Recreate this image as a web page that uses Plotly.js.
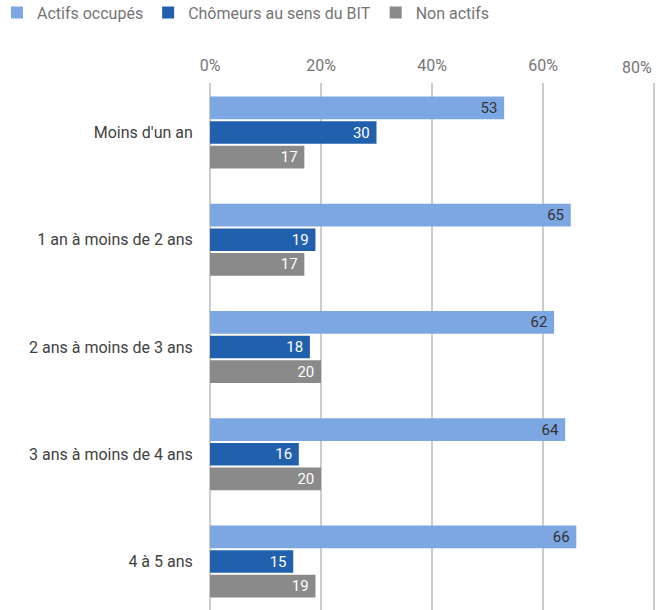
<!DOCTYPE html>
<html>
<head>
<meta charset="utf-8">
<script src="https://cdn.plot.ly/plotly-3.0.1.min.js"></script>
<style>
  html, body { margin: 0; padding: 0; background: #fff; overflow: hidden; }
  #chart { width: 672px; height: 610px; }
</style>
</head>
<body>
<div id="chart"></div>
<script>
// Durée depuis la sortie de formation : répartition par situation (%)
const categories = [
  "Moins d'un an",
  "1 an à moins de 2 ans",
  "2 ans à moins de 3 ans",
  "3 ans à moins de 4 ans",
  "4 à 5 ans"
];
const actifsOccupes = [53, 65, 62, 64, 66];
const chomeursBIT = [30, 19, 18, 16, 15];
const nonActifs = [17, 17, 20, 20, 19];

const seriesNames = ["Actifs occupés", "Chômeurs au sens du BIT", "Non actifs"];
const xTickValues = [0, 20, 40, 60, 80];
const xTickLabels = ["0%", "20%", "40%", "60%", "80%"];

const FONT = "Roboto, 'Noto Sans', Arial, sans-serif";
const NBSP = "\u00a0";
const TICK_GREY = "#757575";
const GRID_GREY = "#9a9a9a";

// the last tick label is right-aligned on its grid line, so it is drawn as an
// annotation anchored at that value; the other labels stay centred
const lastTick = xTickValues.length - 1;
const tickText = xTickLabels.map((t, i) => (i === lastTick ? "" : t));

function barTrace(name, values, color, textColor) {
  return {
    type: "bar",
    orientation: "h",
    name: name,
    y: categories,
    x: values,
    // a trailing space keeps the value a little away from the bar end
    text: values.map(v => String(v) + NBSP),
    textposition: "inside",
    insidetextanchor: "end",
    textangle: 0,
    constraintext: "none",
    textfont: { family: FONT, size: 15, color: textColor },
    marker: { color: color, line: { width: 0 } },
    hoverinfo: "skip",
    cliponaxis: true
  };
}

const data = [
  barTrace(seriesNames[0], actifsOccupes, "#7da7e3", "#333333"),
  barTrace(seriesNames[1], chomeursBIT, "#2160ad", "#ffffff"),
  barTrace(seriesNames[2], nonActifs, "#8a8a8a", "#ffffff")
];

// vertical grid lines at every tick value, full plot height; the bars are
// drawn over them, except past the longest bar where nothing covers the line
const maxValue = Math.max(...actifsOccupes, ...chomeursBIT, ...nonActifs);
const gridLines = xTickValues.map(v => ({
  type: "line",
  xref: "x", x0: v, x1: v,
  yref: "paper", y0: 0, y1: 1,
  line: { color: GRID_GREY, width: 1 },
  layer: v > maxValue ? "above" : "below"
}));

// a few pixels of room at both ends of the value axis (5.55 px per point)
const xPad = 0.54054;

const layout = {
  width: 672,
  height: 610,
  margin: { l: 207, r: 15, t: 83, b: 0, pad: 0, autoexpand: false },
  paper_bgcolor: "#ffffff",
  plot_bgcolor: "#ffffff",
  font: { family: FONT, size: 16, color: "#444444" },
  barmode: "group",
  bargap: 0.31,
  bargroupgap: 0.08,
  showlegend: true,
  legend: {
    orientation: "h",
    x: -0.4667, xref: "paper", xanchor: "left",
    y: 1.166, yref: "paper", yanchor: "top",
    font: { family: FONT, size: 16, color: TICK_GREY },
    traceorder: "normal",
    itemclick: false,
    itemdoubleclick: false
  },
  shapes: gridLines,
  annotations: [{
    x: xTickValues[lastTick], xref: "x",
    y: 1, yref: "paper",
    text: xTickLabels[lastTick],
    showarrow: false,
    xanchor: "right", yanchor: "middle",
    yshift: 16,
    font: { family: FONT, size: 16, color: TICK_GREY }
  }],
  xaxis: {
    side: "top",
    range: [-xPad, 80 + xPad],
    tickvals: xTickValues,
    ticktext: tickText,
    tickfont: { family: FONT, size: 16, color: TICK_GREY },
    ticks: "outside",
    ticklen: 5,
    tickcolor: "rgba(0,0,0,0)",
    showgrid: false,
    zeroline: false,
    showline: false,
    fixedrange: true
  },
  yaxis: {
    type: "category",
    range: [4.452, -0.4615],
    tickfont: { family: FONT, size: 16, color: "#424242" },
    ticks: "outside",
    ticklen: 10,
    tickcolor: "rgba(0,0,0,0)",
    showgrid: false,
    zeroline: false,
    showline: false,
    fixedrange: true
  }
};

Plotly.newPlot("chart", data, layout, { displayModeBar: false, staticPlot: true });
</script>
</body>
</html>
